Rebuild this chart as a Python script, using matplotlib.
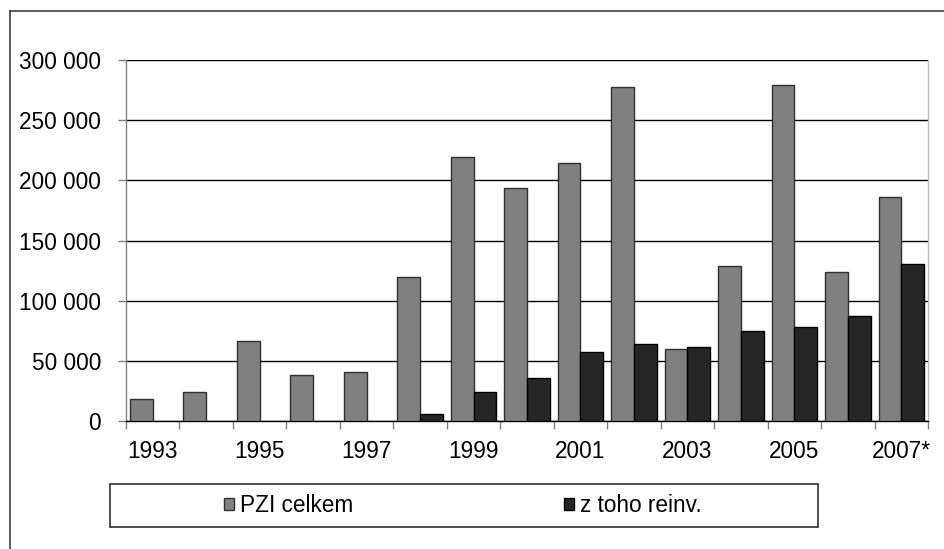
import numpy as np
import matplotlib
matplotlib.use("Agg")
import matplotlib.pyplot as plt
from matplotlib.patches import Rectangle
from matplotlib.lines import Line2D
from matplotlib.ticker import FuncFormatter, FixedLocator

plt.rcParams['font.family'] = ['Liberation Sans', 'DejaVu Sans']

years = ["1993", "1994", "1995", "1996", "1997", "1998", "1999", "2000",
         "2001", "2002", "2003", "2004", "2005", "2006", "2007*"]
pzi_celkem = [18000, 24000, 66700, 37900, 40900, 119700, 219400, 193400,
              214600, 277800, 59600, 128500, 279500, 124100, 185900]
z_toho_reinv = [np.nan, np.nan, np.nan, np.nan, np.nan, 5500, 24100, 36000,
                57700, 63700, 61200, 75000, 78100, 87500, 130500]
series_names = ["PZI celkem", "z toho reinv."]

W, H = 945, 549
fig = plt.figure(figsize=(W / 100, H / 100), dpi=100)
fs = 16.3

ax = fig.add_axes([126 / W, 1 - 421 / H, (928 - 126) / W, (421 - 60) / H])
x = np.arange(len(years))
bw = 0.425
ax.bar(x - bw / 2, pzi_celkem, width=bw, color="#808080", edgecolor="#303030",
       linewidth=1.0, label=series_names[0], zorder=3)
ax.bar(x + bw / 2, z_toho_reinv, width=bw, color="#262626", edgecolor="#000000",
       linewidth=1.0, label=series_names[1], zorder=3)

ax.set_xlim(-0.5, len(years) - 0.5)
ax.set_ylim(0, 300000)
ax.set_yticks(np.arange(0, 300001, 50000))
ax.yaxis.set_major_formatter(FuncFormatter(lambda v, p: f"{int(v):,}".replace(",", " ")))
ax.grid(axis="y", color="#000000", linewidth=1.0, zorder=0)
ax.set_axisbelow(True)

ax.xaxis.set_major_locator(FixedLocator(x[::2]))
ax.set_xticklabels([years[i] for i in x[::2]])
ax.xaxis.set_minor_locator(FixedLocator(np.arange(-0.5, len(years), 1.0)))
ax.tick_params(axis="x", which="major", length=0, pad=13.5, labelsize=fs)
ax.tick_params(axis="x", which="minor", length=6, width=1, color="#808080", direction="out")
ax.tick_params(axis="y", length=6, width=1, color="#808080", pad=12, labelsize=fs)

ax.spines["top"].set_visible(False)
ax.spines["right"].set_color("#c0c0c0")
ax.spines["left"].set_color("#808080")
ax.spines["bottom"].set_color("#000000")
for s in ax.spines.values():
    s.set_linewidth(1.0)

# outer frame (left and top visible)
fig.add_artist(Line2D([10 / W, 10 / W], [0, 1 - 11 / H], transform=fig.transFigure,
                      color="#404040", linewidth=1.2))
fig.add_artist(Line2D([10 / W, 1], [1 - 11 / H, 1 - 11 / H], transform=fig.transFigure,
                      color="#404040", linewidth=1.2))

# legend box
fig.add_artist(Rectangle((110 / W, 1 - 527 / H), (818 - 110) / W, (527 - 484) / H,
                         transform=fig.transFigure, facecolor="white",
                         edgecolor="#303030", linewidth=1.2))
handles, labels = ax.get_legend_handles_labels()
leg = fig.legend(handles, labels, loc="center left",
                 bbox_to_anchor=(224 / W, 1 - 505.5 / H), ncol=2, frameon=False,
                 fontsize=fs, handlelength=0.42, handleheight=0.42,
                 handletextpad=0.3, columnspacing=9.3, borderpad=0, borderaxespad=0)

fig.savefig("out.png", dpi=100)
